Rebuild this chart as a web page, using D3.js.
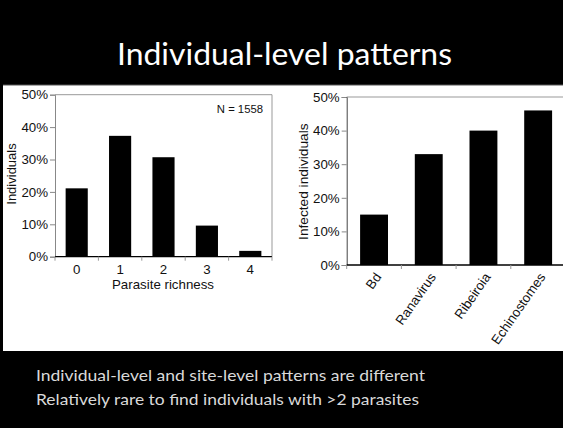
<!DOCTYPE html>
<html>
<head>
<meta charset="utf-8">
<script src="https://cdn.jsdelivr.net/npm/d3@7"></script>
<style>
  body { margin: 0; background: #000; }
  svg { display: block; }
</style>
</head>
<body>
<div id="slide"></div>
<script>
// data
const richness = ["0", "1", "2", "3", "4"];
const richnessPct = [21.1, 37.3, 30.7, 9.6, 1.8];
const parasites = ["Bd", "Ranavirus", "Ribeiroia", "Echinostomes"];
const infectedPct = [15, 33, 40, 46];
const yTicks = [0, 10, 20, 30, 40, 50];
const bullets = ["Individual-level and site-level patterns are different",
                 "Relatively rare to find individuals with >2 parasites"];

const W = 563, H = 428;
const svg = d3.select("#slide").append("svg")
  .attr("width", W).attr("height", H);

svg.append("rect").attr("width", W).attr("height", H).attr("fill", "#000");

// white panel holding both charts
svg.append("rect")
  .attr("x", 3).attr("y", 85).attr("width", W - 3).attr("height", 266)
  .attr("fill", "#fff");
svg.append("line").attr("x1", 3).attr("x2", W).attr("y1", 85).attr("y2", 85)
  .attr("stroke", "#555").attr("stroke-width", 1);

svg.append("text")
  .attr("x", 117).attr("y", 65)
  .attr("textLength", 335).attr("lengthAdjust", "spacingAndGlyphs")
  .attr("fill", "#fff")
  .style("font-family", "Lato, 'Open Sans', sans-serif")
  .style("font-size", "30px")
  .text("Individual-level patterns");

svg.selectAll(".bullet")
  .data(bullets)
  .join("text")
  .attr("class", "bullet")
  .attr("x", 36)
  .attr("y", (d, i) => 380.5 + i * 24)
  .attr("textLength", (d, i) => i == 0 ? 389 : 383)
  .attr("lengthAdjust", "spacingAndGlyphs")
  .attr("fill", "#d9d9d9")
  .style("font-family", "Lato, 'Open Sans', sans-serif")
  .style("font-size", "15px")
  .text(d => d);

const font = "'Liberation Sans', Arial, Helvetica, sans-serif";

function barChart(opt) {
  let g = svg.append("g");
  let x = d3.scaleBand().domain(opt.cats).range([opt.x0, opt.x1])
    .paddingInner(0.49).paddingOuter(0.245);
  let y = d3.scaleLinear().domain([0, 50]).range([opt.y0, opt.y1]);

  // box lines (top and right)
  g.append("path")
    .attr("d", `M${opt.x0},${opt.y1}H${opt.x1}V${opt.y0}`)
    .attr("fill", "none").attr("stroke", "#999").attr("stroke-width", 1);

  g.append("g").selectAll("rect")
    .data(opt.vals)
    .join("rect")
    .attr("x", (d, i) => x(opt.cats[i]))
    .attr("y", d => y(d))
    .attr("width", x.bandwidth())
    .attr("height", d => y(0) - y(d))
    .attr("fill", "#000");

  let yAxis = g.append("g")
    .attr("transform", `translate(${opt.x0},0)`)
    .call(d3.axisLeft(y).tickValues(yTicks).tickFormat(d => d + "%")
      .tickSize(5).tickPadding(2));
  yAxis.select(".domain").attr("stroke", opt.yAxisColor);
  yAxis.selectAll(".tick line").attr("stroke", "#888");
  yAxis.selectAll("text").style("font-family", font).style("font-size", "13.3px")
    .attr("fill", "#111");

  // x axis with ticks at band edges
  let edges = opt.cats.map(c => x(c) - x.step() * x.paddingInner() / 2);
  edges.push(opt.x1);
  g.append("line")
    .attr("x1", opt.x0).attr("x2", opt.x1).attr("y1", opt.y0).attr("y2", opt.y0)
    .attr("stroke", "#000").attr("stroke-width", 1.3);
  g.selectAll(".xt")
    .data(edges)
    .join("line")
    .attr("class", "xt")
    .attr("x1", d => d).attr("x2", d => d)
    .attr("y1", opt.y0).attr("y2", opt.y0 + 4)
    .attr("stroke", "#999");

  g.append("text")
    .attr("transform", `translate(${opt.yLabelX},${opt.yLabelY}) rotate(-90)`)
    .attr("text-anchor", "middle")
    .style("font-family", font).style("font-size", opt.yLabelSize)
    .attr("fill", "#111")
    .text(opt.yLabel);
  return {g, x, y};
}

// left chart
let left = barChart({
  cats: richness, vals: richnessPct,
  x0: 55, x1: 272, y0: 256.7, y1: 94.7,
  yAxisColor: "#888",
  yLabel: "Individuals", yLabelX: 15.5, yLabelY: 174, yLabelSize: "13px"
});
left.g.selectAll(".xl")
  .data(richness)
  .join("text")
  .attr("class", "xl")
  .attr("x", d => left.x(d) + left.x.bandwidth() / 2)
  .attr("y", 273.5)
  .attr("text-anchor", "middle")
  .style("font-family", font).style("font-size", "13.3px")
  .attr("fill", "#111")
  .text(d => d);
left.g.append("text")
  .attr("x", 163).attr("y", 288.5)
  .attr("text-anchor", "middle")
  .style("font-family", font).style("font-size", "13.3px")
  .attr("fill", "#111")
  .text("Parasite richness");
left.g.append("text")
  .attr("x", 263).attr("y", 113)
  .attr("text-anchor", "end")
  .style("font-family", font).style("font-size", "11.3px")
  .attr("fill", "#111")
  .text("N = 1558");

// right chart
let right = barChart({
  cats: parasites, vals: infectedPct,
  x0: 346.7, x1: 565.5, y0: 265, y1: 97,
  yAxisColor: "#444",
  yLabel: "Infected individuals", yLabelX: 308, yLabelY: 181.7, yLabelSize: "13.7px"
});
right.g.selectAll(".xl")
  .data(parasites)
  .join("text")
  .attr("class", "xl")
  .attr("transform", d => `translate(${right.x(d) + right.x.bandwidth() / 2},271.5) rotate(-55)`)
  .attr("dy", "0.72em")
  .attr("text-anchor", "end")
  .style("font-family", font).style("font-size", "13.3px")
  .attr("fill", "#111")
  .text(d => d);
</script>
</body>
</html>
